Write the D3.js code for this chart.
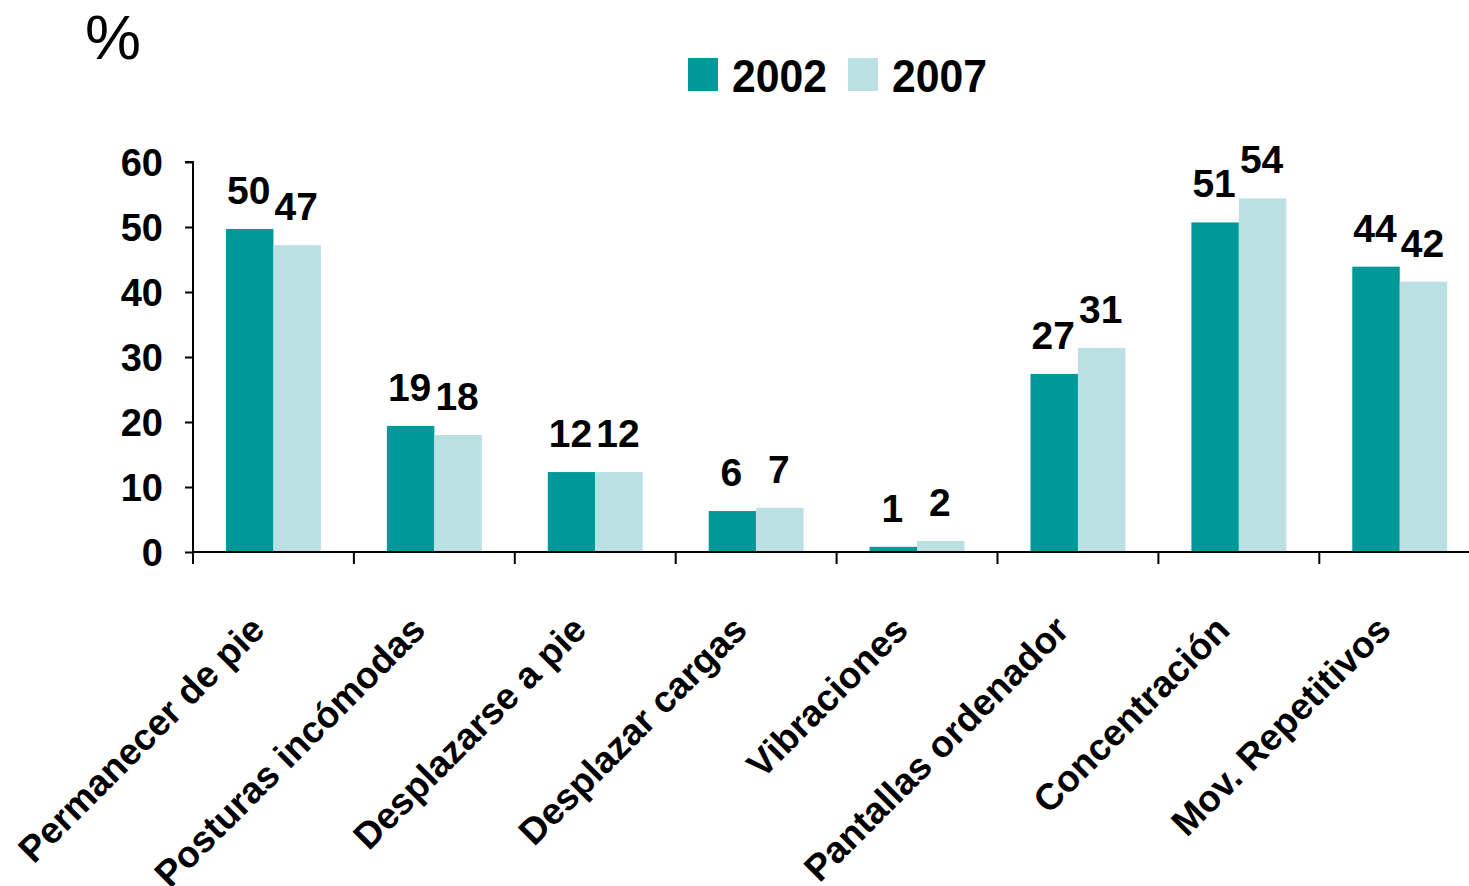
<!DOCTYPE html>
<html>
<head>
<meta charset="utf-8">
<script src="https://cdn.jsdelivr.net/npm/d3@7"></script>
<style>
  html, body { margin: 0; padding: 0; background: #fff; }
  svg { display: block; font-family: "Liberation Sans", Arial, sans-serif; }
</style>
</head>
<body>
<svg id="chart" width="1469" height="886"></svg>
<script>
const categories = ["Permanecer de pie", "Posturas incómodas", "Desplazarse a pie", "Desplazar cargas",
                    "Vibraciones", "Pantallas ordenador", "Concentración", "Mov. Repetitivos"];
const series = ["2002", "2007"];
const values2002 = [49.7, 19.4, 12.3, 6.3, 0.8, 27.4, 50.7, 43.9];
const values2007 = [47.2, 18.0, 12.3, 6.8, 1.7, 31.4, 54.4, 41.6];
const yTicks = [0, 10, 20, 30, 40, 50, 60];
const colors = ["#009999", "#BBE0E3"];

const svg = d3.select("#chart");
const W = 1469, H = 886;
const x0 = 193, yBottom = 552, yTop = 162;
const step = 160.9;

const x = d3.scaleBand().domain(categories)
  .range([x0, x0 + step * categories.length])
  .paddingInner(0.41).paddingOuter(0.205);
const xs = d3.scaleBand().domain(series).range([0, x.bandwidth()]);
const y = d3.scaleLinear().domain([0, 60]).range([yBottom, yTop]);
const color = d3.scaleOrdinal().domain(series).range(colors);

const rows = categories.map((c, i) => ({ cat: c, vals: [
  { s: "2002", v: values2002[i] }, { s: "2007", v: values2007[i] } ] }));

// bars
const g = svg.append("g");
const grp = g.selectAll("g.grp").data(rows).join("g")
  .attr("transform", d => `translate(${x(d.cat)},0)`);
grp.selectAll("rect").data(d => d.vals).join("rect")
  .attr("x", d => xs(d.s))
  .attr("width", xs.bandwidth())
  .attr("y", d => y(d.v))
  .attr("height", d => y(0) - y(d.v))
  .attr("fill", d => color(d.s));
grp.selectAll("text").data(d => d.vals).join("text")
  .attr("x", d => xs(d.s) + xs.bandwidth() / 2 - 1)
  .attr("y", d => y(d.v) - 25)
  .attr("text-anchor", "middle")
  .attr("font-size", 39).attr("font-weight", "bold").attr("fill", "#000")
  .text(d => Math.round(d.v));

// y axis
const yAxis = svg.append("g").attr("transform", `translate(${x0},0)`)
  .call(d3.axisLeft(y).tickValues(yTicks).tickSize(8).tickPadding(22).tickFormat(d3.format("d")));
yAxis.select(".domain").attr("stroke", "#000").attr("stroke-width", 2).attr("d", `M-8,${yTop}H0V${yBottom}`);
yAxis.selectAll(".tick line").attr("stroke", "#000").attr("stroke-width", 2);
yAxis.selectAll(".tick text").attr("font-size", 38).attr("font-weight", "bold")
  .attr("fill", "#000").attr("font-family", "Liberation Sans, Arial, sans-serif").attr("dy", "0.35em");

// x axis
const xAxis = svg.append("g").attr("transform", `translate(0,${yBottom})`);
xAxis.append("line").attr("x1", x0).attr("x2", W).attr("y1", 0).attr("y2", 0)
  .attr("stroke", "#000").attr("stroke-width", 2);
const boundaries = d3.range(categories.length + 1).map(i => x.range()[0] + i * x.step());
xAxis.selectAll("line.tk").data(boundaries).join("line").attr("class", "tk")
  .attr("x1", d => d).attr("x2", d => d).attr("y1", 0).attr("y2", 12)
  .attr("stroke", "#000").attr("stroke-width", 2);
xAxis.selectAll("text.cat").data(categories).join("text").attr("class", "cat")
  .attr("transform", d => `translate(${x(d) + x.bandwidth() / 2 - 7},80) rotate(-45)`)
  .attr("text-anchor", "end")
  .attr("font-size", 37).attr("font-weight", "bold").attr("fill", "#000")
  .text(d => d);

// percent sign
svg.append("text").attr("x", 85).attr("y", 59).attr("font-size", 63).attr("fill", "#000").text("%");

// legend
const legend = svg.append("g");
const legX = [688, 848];
series.forEach((s, i) => {
  legend.append("rect").attr("x", legX[i]).attr("y", 58).attr("width", 30).attr("height", 33)
    .attr("fill", color(s));
  legend.append("text").attr("x", legX[i] + 44).attr("y", 92)
    .attr("font-size", 46).attr("font-weight", "bold").attr("fill", "#000")
    .attr("textLength", 95).attr("lengthAdjust", "spacingAndGlyphs")
    .text(s);
});
</script>
</body>
</html>
